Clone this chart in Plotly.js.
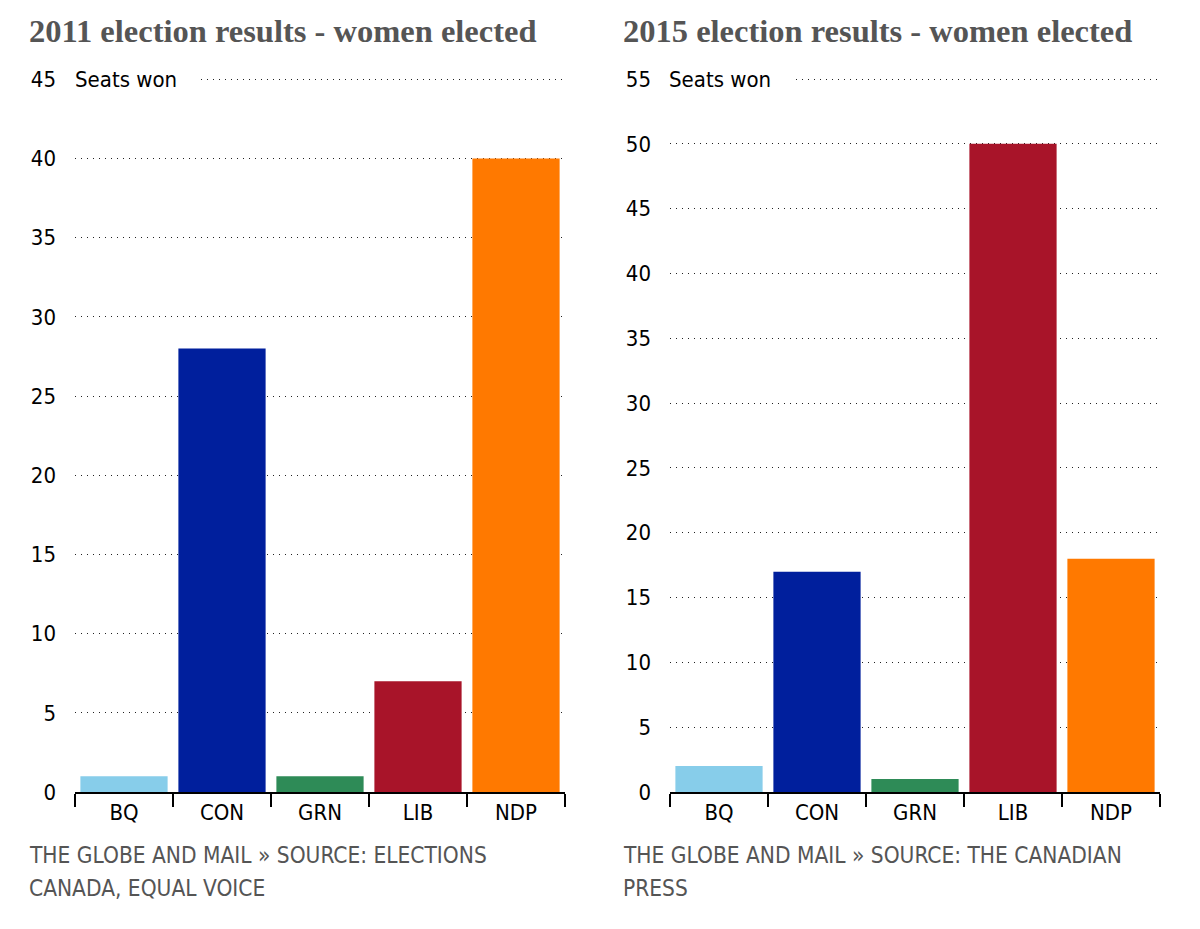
<!DOCTYPE html>
<html>
<head>
<meta charset="utf-8">
<script src="https://cdn.plot.ly/plotly-3.0.1.min.js"></script>
<style>
  html, body { margin: 0; padding: 0; background: #fff; }
  #chart { width: 1200px; height: 929px; }
</style>
</head>
<body>
<div id="chart"></div>
<script>
// parties and seats won by women
let parties = ['BQ', 'CON', 'GRN', 'LIB', 'NDP'];
let seats2011 = [1, 28, 1, 7, 40];
let seats2015 = [2, 17, 1, 50, 18];
let partyColors = ['#87cdea', '#001f9d', '#2e8b57', '#a81429', '#ff7900'];

let W = 1200, H = 929;
let px = x => x / W;
let py = y => (H - y) / H;

let sans = 'DejaVu Sans Condensed, Liberation Sans Narrow, Arial, sans-serif';
let tickFont = { family: sans, size: 22, color: '#000' };
let grey = '#555555';
let titleFont = { family: 'Liberation Serif, Times New Roman, serif', size: 32.5, color: grey };
let sourceFont = { family: sans, size: 22.5, color: grey };

let trace1 = {
  x: parties,
  y: seats2011,
  type: 'bar',
  marker: { color: partyColors },
  xaxis: 'x',
  yaxis: 'y'
};
let trace2 = {
  x: parties,
  y: seats2015,
  type: 'bar',
  marker: { color: partyColors },
  xaxis: 'x2',
  yaxis: 'y2'
};

function xAxis(domain, anchor) {
  return {
    domain: domain,
    anchor: anchor,
    type: 'category',
    showline: true,
    linecolor: '#000',
    linewidth: 2,
    ticks: 'outside',
    tickson: 'boundaries',
    ticklen: 13,
    tickwidth: 2,
    tickcolor: '#000',
    tickfont: tickFont,
    showgrid: false,
    fixedrange: true
  };
}
function yAxis(domain, anchor, top) {
  return {
    domain: domain,
    anchor: anchor,
    range: [0, top + 0.08],
    dtick: 5,
    tick0: 0,
    showline: false,
    zeroline: false,
    ticks: '',
    ticklabelstandoff: 18,
    tickfont: tickFont,
    showgrid: true,
    gridcolor: '#222',
    gridwidth: 1,
    griddash: '1px,5px',
    fixedrange: true
  };
}

let yDom = [py(792), py(78)];

let layout = {
  width: W,
  height: H,
  margin: { l: 0, r: 0, t: 0, b: 0 },
  paper_bgcolor: '#fff',
  plot_bgcolor: '#fff',
  showlegend: false,
  bargap: 0.11,
  xaxis: xAxis([px(75), px(565)], 'y'),
  yaxis: yAxis(yDom, 'x', 45),
  xaxis2: xAxis([px(670), px(1160)], 'y2'),
  yaxis2: yAxis(yDom, 'x2', 55),
  shapes: [
    { type: 'rect', xref: 'paper', yref: 'paper', x0: px(70), x1: px(198), y0: py(70), y1: py(90),
      fillcolor: '#fff', line: { width: 0 }, layer: 'above' },
    { type: 'rect', xref: 'paper', yref: 'paper', x0: px(664), x1: px(792), y0: py(70), y1: py(90),
      fillcolor: '#fff', line: { width: 0 }, layer: 'above' }
  ],
  annotations: [
    { text: '<b>2011 election results - women elected</b>', xref: 'paper', yref: 'paper',
      x: px(27), y: py(31), xanchor: 'left', yanchor: 'middle', showarrow: false, font: titleFont },
    { text: '<b>2015 election results - women elected</b>', xref: 'paper', yref: 'paper',
      x: px(621), y: py(31), xanchor: 'left', yanchor: 'middle', showarrow: false, font: titleFont },
    { text: 'Seats won', xref: 'paper', yref: 'paper', x: px(73), y: py(79),
      xanchor: 'left', yanchor: 'middle', showarrow: false, font: tickFont },
    { text: 'Seats won', xref: 'paper', yref: 'paper', x: px(667), y: py(79),
      xanchor: 'left', yanchor: 'middle', showarrow: false, font: tickFont },
    { text: 'THE GLOBE AND MAIL » SOURCE: ELECTIONS', xref: 'paper', yref: 'paper',
      x: px(27), y: py(855), xanchor: 'left', yanchor: 'middle', showarrow: false, font: sourceFont },
    { text: 'CANADA, EQUAL VOICE', xref: 'paper', yref: 'paper',
      x: px(27), y: py(888), xanchor: 'left', yanchor: 'middle', showarrow: false, font: sourceFont },
    { text: 'THE GLOBE AND MAIL » SOURCE: THE CANADIAN', xref: 'paper', yref: 'paper',
      x: px(621), y: py(855), xanchor: 'left', yanchor: 'middle', showarrow: false, font: sourceFont },
    { text: 'PRESS', xref: 'paper', yref: 'paper',
      x: px(621), y: py(888), xanchor: 'left', yanchor: 'middle', showarrow: false, font: sourceFont }
  ]
};

let data = [trace1, trace2];
Plotly.newPlot('chart', data, layout, { displayModeBar: false, staticPlot: true });
</script>
</body>
</html>
